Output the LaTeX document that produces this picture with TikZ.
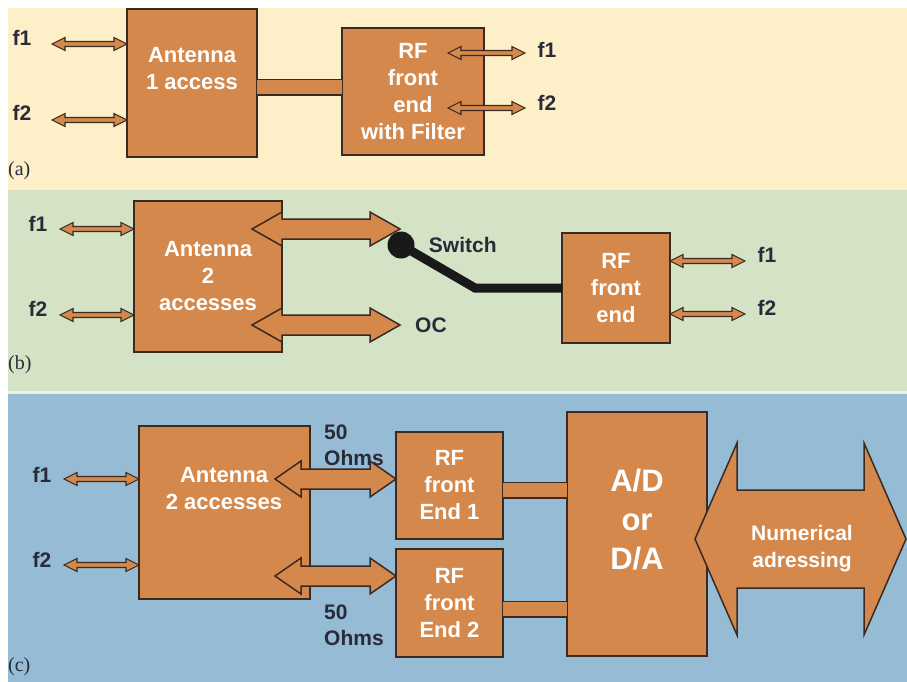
\documentclass[tikz,border=0pt]{standalone}
\usepackage{fontspec}
\setmainfont{Liberation Sans}
\newfontfamily\capfont{Liberation Serif}
\usetikzlibrary{positioning}
\usetikzlibrary{calc}

\definecolor{boxfill}{HTML}{D4884C}
\definecolor{boxedge}{HTML}{3A2A22}
\definecolor{bgA}{HTML}{FDF0C8}
\definecolor{bgB}{HTML}{D4E2C6}
\definecolor{bgC}{HTML}{95BBD5}
\definecolor{ink}{HTML}{2A2A38}

% outlined double arrow between two tips: [style]{from}{to}{shaft half}{head half}{head length}
\newcommand\twoway[6][fatline]{%
	\draw[#1] let \p1=#2, \p2=#3 in
		(\x1,\y1) -- (\x1+#6,\y1+#5) -- (\x1+#6,\y1+#4) -- (\x2-#6,\y1+#4)
		-- (\x2-#6,\y1+#5) -- (\x2,\y1) -- (\x2-#6,\y1-#5) -- (\x2-#6,\y1-#4)
		-- (\x1+#6,\y1-#4) -- (\x1+#6,\y1-#5) -- cycle;}

\begin{document}
\begin{tikzpicture}[x=1pt,y=-1pt,line join=miter,
	block/.style={draw=boxedge,fill=boxfill,line width=2pt,outer sep=0pt,inner sep=0pt,text=white,align=center,font=\fontsize{22}{27}\selectfont\bfseries},
	btext/.style={text=white,align=center,inner sep=0pt,font=\fontsize{22}{27}\selectfont\bfseries},
	lab/.style={text=ink,inner sep=0pt,font=\fontsize{21}{26}\selectfont\bfseries},
	tag/.style={text=ink,inner sep=0pt,anchor=west,font=\capfont\fontsize{20}{24}\selectfont},
	fatline/.style={draw=boxedge,fill=boxfill,line width=1.5pt},
	thinline/.style={draw=boxedge,fill=boxfill,line width=1.1pt},
	link/.style={draw=boxedge,line width=1.5pt,double=boxfill,double distance=14pt},
	lever/.style={draw=black!90,line width=9pt}]
	\useasboundingbox (0,0) rectangle (907,682);

	% three coloured bands
	\fill[white] (0,0) rectangle (907,682);
	\fill[bgA] (8,8) rectangle (907,190);
	\fill[bgB] (8,190) rectangle (907,393);
	\fill[bgB!50!white] (8,391) rectangle (907,394);
	\fill[bgC] (8,394) rectangle (907,682);

	% (a) one access, filter in the front end
	\node [block,minimum width=130pt,minimum height=148pt] at (192,83) (anta) {};
	\node [btext] at (192,68.5) (antatxt) {Antenna\\1 access};
	\node [block,minimum width=142pt,minimum height=127pt] at (413,91.5) (rfa) {RF\\front\\end\\with Filter};
	\path ([yshift=-4.5pt]anta.east) coordinate (ba);
	\draw[link] (ba) -- (ba -| rfa.west);

	\node [lab] at (22,38) (la1) {f1};
	\node [lab] at (22,113) (la2) {f2};
	\coordinate (fa1) at (52,44);
	\coordinate (fa2) at (52,120);
	\twoway[thinline]{(fa1)}{(anta.west |- fa1)}{2.5pt}{6.5pt}{13pt}
	\twoway[thinline]{(fa2)}{(anta.west |- fa2)}{2.5pt}{6.5pt}{13pt}

	\node [lab] at (547,50) (la3) {f1};
	\node [lab] at (547,103) (la4) {f2};
	\coordinate (fa3) at (525,53);
	\coordinate (fa4) at (525,108);
	\twoway[thinline]{($(rfa.east |- fa3)+(-36,0)$)}{(fa3)}{2.5pt}{6.5pt}{13pt}
	\twoway[thinline]{($(rfa.east |- fa4)+(-36,0)$)}{(fa4)}{2.5pt}{6.5pt}{13pt}
	\node [tag] at (8,171) {(a)};

	% (b) two accesses and a switch
	\node [block,minimum width=148pt,minimum height=151pt] at (208,276.5) (antb) {Antenna\\2\\accesses};
	\node [block,minimum width=108pt,minimum height=110pt] at (616,288) (rfb) {RF\\front\\end};

	\node [lab] at (38,224) (lb1) {f1};
	\node [lab] at (38,309) (lb2) {f2};
	\coordinate (fb1) at (60,229);
	\coordinate (fb2) at (60,315);
	\twoway[thinline]{(fb1)}{(antb.west |- fb1)}{2.5pt}{6.5pt}{13pt}
	\twoway[thinline]{(fb2)}{(antb.west |- fb2)}{2.5pt}{6.5pt}{13pt}

	\node [lab] at (767,255) (lb3) {f1};
	\node [lab] at (767,308) (lb4) {f2};
	\coordinate (fb3) at (745,261);
	\coordinate (fb4) at (745,314);
	\twoway[thinline]{(rfb.east |- fb3)}{(fb3)}{2.5pt}{6.5pt}{13pt}
	\twoway[thinline]{(rfb.east |- fb4)}{(fb4)}{2.5pt}{6.5pt}{13pt}

	\coordinate (swin) at (400,229);
	\coordinate (ocin) at (400,325);
	\twoway{($(antb.east |- swin)+(-30,0)$)}{(swin)}{10pt}{17pt}{30pt}
	\twoway{($(antb.east |- ocin)+(-30,0)$)}{(ocin)}{10pt}{17pt}{30pt}
	\node [lab,right=15pt of ocin] (oc) {OC};

	\node [circle,fill=black!90,minimum size=27pt,inner sep=0pt] at (401,245) (sw) {};
	\node [lab,right=14pt of sw] (swtxt) {Switch};
	\coordinate (knee) at (475,288);
	\draw[lever] (sw.center) -- (knee) -- (rfb.west |- knee);
	\node [tag] at (8,365) {(b)};

	% (c) two accesses, two front ends and converter
	\node [block,minimum width=171pt,minimum height=173pt] at (224.5,512.5) (antc) {};
	\node [btext] at (224,488.5) (antctxt) {Antenna\\2 accesses};
	\node [block,minimum width=107pt,minimum height=107pt] at (449.5,485.5) (rf1) {RF\\front\\End 1};
	\node [block,minimum width=107pt,minimum height=108pt] at (449.5,603) (rf2) {RF\\front\\End 2};
	\node [block,minimum width=140pt,minimum height=244pt] at (637,534) (adc) {};
	\node [btext,font=\fontsize{31}{39}\selectfont\bfseries] at (637,519.5) (adctxt) {A/D\\or\\D/A};

	\path ([yshift=-4.5pt]rf1.east) coordinate (c1);
	\path ([yshift=-6pt]rf2.east) coordinate (c2);
	\draw[link] (c1) -- (c1 -| adc.west);
	\draw[link] (c2) -- (c2 -| adc.west);

	\node [lab] at (42,475) (lc1) {f1};
	\node [lab] at (42,560) (lc2) {f2};
	\coordinate (fc1) at (64,479);
	\coordinate (fc2) at (64,565);
	\twoway[thinline]{(fc1)}{(antc.west |- fc1)}{2.5pt}{6.5pt}{13pt}
	\twoway[thinline]{(fc2)}{(antc.west |- fc2)}{2.5pt}{6.5pt}{13pt}

	\coordinate (up) at (275,479);
	\coordinate (dn) at (275,576);
	\twoway{(up)}{(rf1.west |- up)}{10pt}{18pt}{26pt}
	\twoway{(dn)}{(rf2.west |- dn)}{10pt}{18pt}{26pt}
	\node [lab,align=left,anchor=west] at (324,445) (ohm1) {50\\Ohms};
	\node [lab,align=left,anchor=west] at (324,625) (ohm2) {50\\Ohms};

	\coordinate (bus) at (906,539);
	\twoway{($(adc.east |- bus)+(-12,0)$)}{(bus)}{49pt}{96pt}{42pt}
	\node [btext,font=\fontsize{21}{27}\selectfont\bfseries] at (802,549) (bustxt) {Numerical\\adressing};
	\node [tag] at (8,667) {(c)};
\end{tikzpicture}
\end{document}
